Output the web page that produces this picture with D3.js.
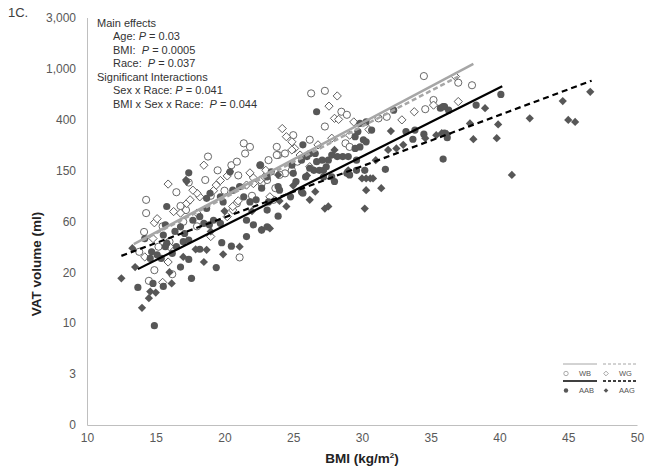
<!DOCTYPE html>
<html>
<head>
<meta charset="utf-8">
<script src="https://cdn.jsdelivr.net/npm/d3@7"></script>
<style>
  body { margin: 0; background: #fff; }
  svg text { font-family: "Liberation Sans", Arial, sans-serif; }
</style>
</head>
<body>
<script>
// y values are ln(VAT volume, ml) - the axis is linear in ln, labelled in ml
var xTicks = [10, 15, 20, 25, 30, 35, 40, 45, 50];
var yTicks = [0, 1, 2, 3, 4, 5, 6, 7, 8];
var yTickLabels = ["0", "3", "10", "20", "60", "150", "400", "1,000", "3,000"];

// [BMI, ln VAT]
var wbPoints = [[14.3,4.42],[14.3,4.16],[14.15,3.79],[14.5,2.83],[14.9,3.04],[16.2,2.96],[16.5,4.57],[17.0,3.99],
  [17.4,4.76],[18.6,4.81],[18.8,5.27],[20.5,5.1],[20.9,5.17],[21.1,3.29],[21.4,5.53],[21.85,5.46],[21.5,5.33],
  [22.6,5.1],[23.8,5.46],[23.9,5.3],[23.7,4.65],[23.55,4.42],[23.1,4.81],[22.7,4.74],[23.2,5.2],[23.8,5.3],
  [24.4,5.33],[25.0,5.69],[24.4,4.94],[24.0,4.91],[26.3,6.51],[27.3,6.56],[28.5,6.15],[28.9,6.09],[27.3,5.86],
  [28.8,5.53],[31.2,6.02],[31.8,6.05],[34.6,6.2],[35.2,6.38],[34.5,6.85],[37.0,6.72],[38.0,6.67],[20.9,4.35],
  [17.2,4.22],[15.5,3.9],[16.0,3.6],[19.0,4.5],[20.0,4.6],[22.0,4.5],[25.3,5.17],[26.2,5.6],[29.1,5.46],
  [18.0,3.9],[15.2,3.5],[13.8,3.4],[16.8,4.3],[19.5,5.0],[21.0,4.9],[24.9,5.0]];

var wgPoints = [[14.8,3.66],[14.9,3.97],[15.1,4.05],[15.9,4.73],[15.9,3.2],[16.3,4.19],[16.8,4.16],[17.25,4.35],
  [17.5,4.42],[18.0,4.16],[18.2,4.48],[18.0,4.55],[17.7,4.61],[18.5,5.1],[19.4,4.71],[20.2,4.09],[20.6,4.22],
  [20.2,4.89],[20.6,4.29],[21.6,4.71],[22.1,4.74],[22.6,4.81],[22.9,4.87],[22.1,4.85],[21.85,4.95],[19.7,4.8],
  [19.2,4.6],[24.2,5.82],[24.5,5.66],[24.9,5.56],[25.1,5.43],[24.9,5.4],[23.3,4.48],[26.2,5.07],[27.6,6.26],
  [28.2,6.46],[28.0,6.02],[28.3,6.0],[27.8,5.63],[29.4,5.95],[29.1,5.69],[32.9,5.99],[33.8,6.15],[35.2,6.28],
  [36.8,6.84],[37.0,6.35],[16.0,3.5],[14.2,3.3],[15.5,2.8],[19.0,3.7],[21.0,4.4],[23.0,5.0],[25.5,5.3],
  [30.5,5.8],[26.8,5.5]];

var aabPoints = [[13.7,2.70],[14.9,1.95],[14.8,2.78],[15.55,2.72],[16.8,3.1],[17.4,3.25],[17.6,2.88],[19.4,3.09],
  [21.6,3.7],[20.5,3.51],[19.8,3.58],[18.2,3.45],[17.0,3.6],[17.4,3.63],[15.8,3.57],[15.7,3.5],[14.7,3.4],
  [14.6,3.27],[15.1,3.34],[15.4,3.27],[16.2,3.37],[16.5,3.5],[14.2,3.66],[15.55,3.73],[16.4,3.8],[17.1,3.76],
  [16.8,3.89],[15.7,3.93],[17.7,4.02],[18.2,4.09],[18.5,3.96],[19.2,4.02],[18.9,3.93],[19.7,3.96],[18.7,4.25],
  [15.8,4.29],[18.7,4.45],[18.95,4.55],[17.4,4.95],[20.4,4.97],[19.7,4.48],[19.9,4.38],[20.6,4.61],[21.1,4.68],
  [21.4,4.48],[21.85,4.38],[22.3,4.42],[21.6,4.02],[22.1,3.93],[22.7,3.83],[23.1,3.89],[23.2,4.38],[23.1,4.22],
  [23.9,4.1],[24.8,4.48],[24.0,4.61],[23.9,4.68],[23.1,4.87],[22.6,5.1],[23.4,4.97],[26.7,6.15],[25.7,4.55],
  [25.6,4.58],[25.9,4.87],[25.2,4.78],[26.2,5.04],[26.5,5.0],[26.9,5.0],[27.2,5.0],[27.4,5.07],[27.1,5.2],
  [26.7,5.17],[27.55,5.2],[27.8,5.3],[28.2,5.27],[28.6,5.27],[29.0,5.27],[29.6,5.2],[29.6,5.0],[29.1,4.91],
  [28.9,4.94],[30.2,5.0],[27.8,4.87],[28.0,4.78],[27.2,4.87],[29.85,5.92],[30.3,5.95],[29.7,5.76],[29.5,5.66],
  [30.7,5.79],[30.1,5.6],[30.3,5.56],[29.5,5.43],[29.85,5.46],[32.3,6.18],[33.2,5.76],[33.85,5.79],[33.7,5.61],
  [34.5,5.71],[35.9,5.22],[31.7,5.02],[35.7,6.22],[36.0,6.25],[36.3,6.18],[35.9,6.25],[38.3,6.28],[40.1,6.49],
  [36.0,5.73],[36.2,5.64],[25.7,5.5],[26.6,5.33],[26.2,5.33],[26.0,5.27],[25.6,5.2],[25.0,4.94],[24.9,5.1],
  [22.7,4.65]];

var aagPoints = [[12.5,2.88],[13.3,3.47],[14.6,2.62],[14.5,2.49],[16.16,2.78],[18.7,3.44],[17.9,3.45],[21.1,3.5],
  [17.25,4.78],[17.2,4.81],[20.4,4.97],[23.9,4.91],[26.6,4.58],[26.2,4.42],[27.3,4.25],[27.55,4.29],[24.5,4.29],
  [30.3,4.61],[31.4,4.65],[30.2,4.25],[30.8,4.84],[30.6,4.84],[30.3,4.84],[30.0,4.84],[32.1,5.77],[31.9,5.4],
  [32.5,5.43],[34.6,5.63],[35.4,5.69],[35.8,5.73],[36.2,5.71],[37.85,5.92],[38.95,6.22],[39.9,5.9],[38.1,5.61],
  [39.8,5.63],[40.9,4.91],[42.2,6.02],[44.6,6.36],[45.0,5.99],[45.5,5.95],[46.6,6.54],[22.7,3.83],[23.3,3.86],
  [13.5,3.1],[14.0,2.3],[15.0,2.6],[16.0,3.0],[17.0,3.3],[19.0,3.8],[20.0,4.2],[22.0,4.2],[24.0,4.4],[25.0,4.7],
  [26.0,4.9],[28.0,5.4],[29.0,5.0],[31.0,5.2],[33.0,5.5],[19.9,3.35],[18.5,3.2]];

// fitted lines, [BMI, ln VAT] end points
var wbFit = [[13.4,3.55],[38.1,7.09]];
var wgFit = [[14.0,3.62],[37.0,6.84]];
var aabFit = [[13.7,3.06],[40.2,6.65]];
var aagFit = [[12.5,3.32],[46.7,6.76]];

var notes = [
  {indent: 0, text: "Main effects"},
  {indent: 1, text: "Age: ", p: " = 0.03"},
  {indent: 1, text: "BMI:  ", p: " = 0.0005"},
  {indent: 1, text: "Race:  ", p: " = 0.037"},
  {indent: 0, text: "Significant Interactions"},
  {indent: 1, text: "Sex x Race: ", p: " = 0.041"},
  {indent: 1, text: "BMI x Sex x Race:  ", p: " = 0.044"}
];

function draw() {
  var W = 649, H = 473;
  var svg = d3.select("body").append("svg")
      .attr("width", W).attr("height", H);

  var x = d3.scaleLinear().domain([10, 50]).range([87, 637]);
  var y = d3.scaleLinear().domain([0, 8]).range([425, 17.5]);

  var gray = "#a6a6a6", dark = "#575757", axisCol = "#bfbfbf", txt = "#595959";

  // axes
  var xAxis = svg.append("g").attr("transform", "translate(0," + y(0) + ")")
      .call(d3.axisBottom(x).tickValues(xTicks).tickSize(0).tickPadding(8));
  var yAxis = svg.append("g").attr("transform", "translate(" + x(10) + ",0)")
      .call(d3.axisLeft(y).tickValues(yTicks).tickSize(0).tickPadding(11)
        .tickFormat(function (d, i) { return yTickLabels[i]; }));
  [xAxis, yAxis].forEach(function (a) {
    a.select(".domain").attr("stroke", axisCol).attr("stroke-width", 1);
    a.selectAll("text").attr("fill", txt).style("font-size", "12px")
      .style("font-family", "'Liberation Sans', Arial, sans-serif");
  });

  // axis titles
  var xTitle = svg.append("text").attr("x", 362).attr("y", 463).attr("text-anchor", "middle")
    .style("font-size", "13.5px").style("font-weight", "bold").attr("fill", "#222");
  xTitle.append("tspan").text("BMI (kg/m");
  xTitle.append("tspan").attr("dy", -5).style("font-size", "8px").text("2");
  xTitle.append("tspan").attr("dy", 5).text(")");

  svg.append("text").attr("transform", "translate(41,264) rotate(-90)")
    .attr("text-anchor", "middle").style("font-size", "13.5px").style("font-weight", "bold")
    .attr("fill", "#222").text("VAT volume (ml)");

  svg.append("text").attr("x", 8).attr("y", 17).style("font-size", "13px")
    .attr("fill", "#404040").text("1C.");

  // markers
  var diamond = d3.symbol().type(d3.symbolSquare).size(34);
  var pts = svg.append("g");

  pts.selectAll(".wb").data(wbPoints).enter().append("circle")
    .attr("cx", function (d) { return x(d[0]); }).attr("cy", function (d) { return y(d[1]); })
    .attr("r", 3.6).attr("fill", "#fff").attr("stroke", dark).attr("stroke-width", 0.9);
  pts.selectAll(".wg").data(wgPoints).enter().append("path")
    .attr("d", diamond)
    .attr("transform", function (d) { return "translate(" + x(d[0]) + "," + y(d[1]) + ") rotate(45)"; })
    .attr("fill", "#fff").attr("stroke", dark).attr("stroke-width", 0.9);
  pts.selectAll(".aab").data(aabPoints).enter().append("circle")
    .attr("cx", function (d) { return x(d[0]); }).attr("cy", function (d) { return y(d[1]); })
    .attr("r", 3.6).attr("fill", dark);
  pts.selectAll(".aag").data(aagPoints).enter().append("path")
    .attr("d", diamond)
    .attr("transform", function (d) { return "translate(" + x(d[0]) + "," + y(d[1]) + ") rotate(45)"; })
    .attr("fill", dark);

  // fit lines
  var line = d3.line().x(function (d) { return x(d[0]); }).y(function (d) { return y(d[1]); });
  var fits = [
    {data: wbFit, color: gray, dash: null, w: 2.5},
    {data: wgFit, color: gray, dash: "5,3", w: 2.5},
    {data: aabFit, color: "#000", dash: null, w: 2.2},
    {data: aagFit, color: "#000", dash: "6,4", w: 2.2}
  ];
  svg.append("g").selectAll("path").data(fits).enter().append("path")
    .attr("d", function (f) { return line(f.data); })
    .attr("fill", "none").attr("stroke", function (f) { return f.color; })
    .attr("stroke-width", function (f) { return f.w; })
    .attr("stroke-dasharray", function (f) { return f.dash; });

  // notes
  var ng = svg.append("g");
  notes.forEach(function (n, i) {
    var t = ng.append("text").attr("x", n.indent ? 113 : 97).attr("y", 26.5 + i * 13.55)
      .style("font-size", "11px").attr("fill", "#333").style("white-space", "pre");
    t.append("tspan").text(n.text);
    if (n.p) {
      t.append("tspan").style("font-style", "italic").text("P");
      t.append("tspan").text(n.p);
    }
  });

  // legend
  var lg = svg.append("g");
  var leg = [
    {x0: 563, y0: 364, color: gray, dash: null, label: "WB", open: true, shape: "circle"},
    {x0: 603, y0: 364, color: gray, dash: "3,2", label: "WG", open: true, shape: "diamond"},
    {x0: 563, y0: 381, color: "#000", dash: null, label: "AAB", open: false, shape: "circle"},
    {x0: 603, y0: 381, color: "#000", dash: "3,2", label: "AAG", open: false, shape: "diamond"}
  ];
  leg.forEach(function (l) {
    lg.append("line").attr("x1", l.x0).attr("x2", l.x0 + 34).attr("y1", l.y0).attr("y2", l.y0)
      .attr("stroke", l.color).attr("stroke-width", l.open ? 1 : 1.4).attr("stroke-dasharray", l.dash);
    var my = l.y0 + 9.5, mx = l.x0 + 3;
    if (l.shape === "circle") {
      lg.append("circle").attr("cx", mx).attr("cy", my).attr("r", 2.2)
        .attr("fill", l.open ? "#fff" : dark).attr("stroke", l.open ? "#888" : "none").attr("stroke-width", 0.7);
    } else {
      lg.append("path").attr("d", d3.symbol().type(d3.symbolSquare).size(11))
        .attr("transform", "translate(" + mx + "," + my + ") rotate(45)")
        .attr("fill", l.open ? "#fff" : dark).attr("stroke", l.open ? "#888" : "none").attr("stroke-width", 0.7);
    }
    lg.append("text").attr("x", l.x0 + 16).attr("y", my + 2.5).style("font-size", "7.5px")
      .attr("fill", "#555").text(l.label);
  });
}

window.onload = draw;
</script>
</body>
</html>
